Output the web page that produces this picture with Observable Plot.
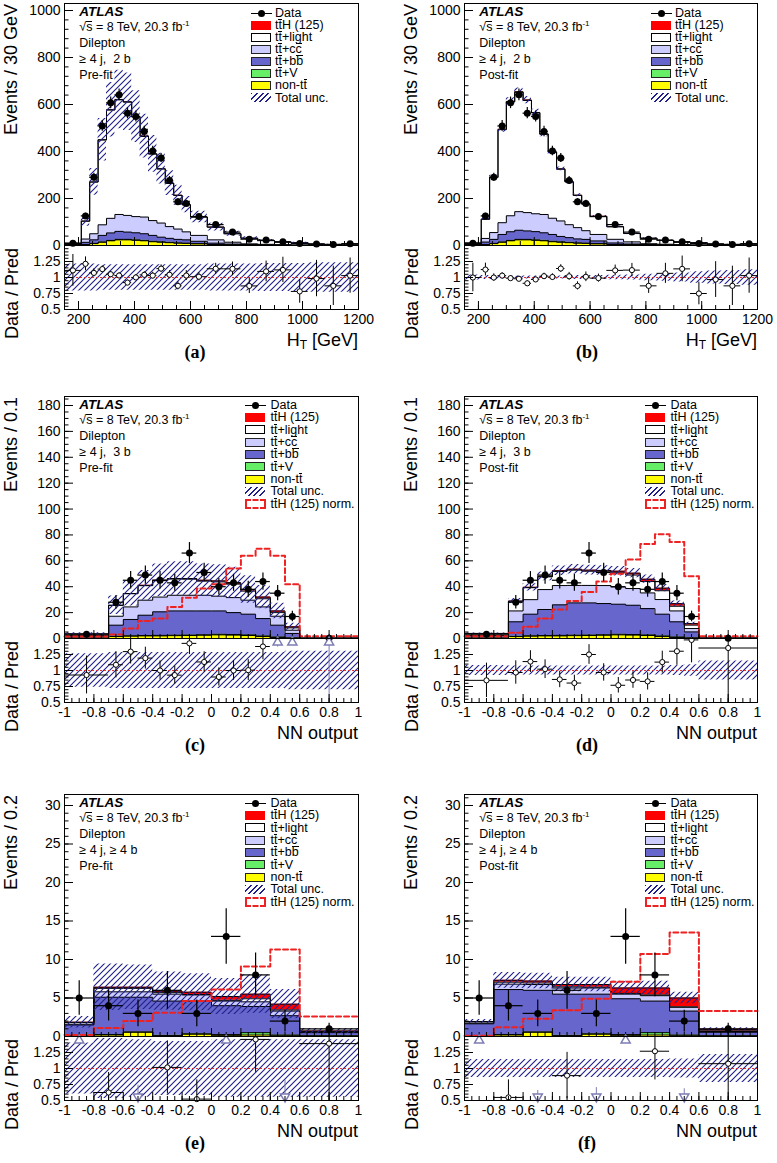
<!DOCTYPE html>
<html>
<head>
<meta charset="utf-8">
<script src="https://cdn.jsdelivr.net/npm/d3@7"></script>
<script src="https://cdn.jsdelivr.net/npm/@observablehq/plot@0.6"></script>
<style>
html,body{margin:0;padding:0;background:#fff;}
#root{position:relative;width:777px;height:1163px;overflow:hidden;background:#fff;font-family:"Liberation Sans",Arial,Helvetica,sans-serif;color:#000;}
.t{position:absolute;white-space:nowrap;line-height:1;}
.ol{display:inline-block;border-top:1px solid currentColor;line-height:0.8em;}
.ytitle{position:absolute;writing-mode:vertical-rl;transform:rotate(180deg);font-size:18px;line-height:18px;white-space:nowrap;}
sup{font-size:8px;vertical-align:5px;line-height:0;}
sub{font-size:12px;vertical-align:-3px;line-height:0;}
</style>
</head>
<body>
<svg width="0" height="0" style="position:absolute;left:0;top:0">
<defs>
<pattern id="hatch" patternUnits="userSpaceOnUse" width="6" height="6">
<path d="M-1,1 l2,-2 M0,6 l6,-6 M5,7 l2,-2" stroke="#20208c" stroke-width="1.15" fill="none"/>
</pattern>
</defs>
</svg>
<div id="root"></div>
<script>
// ================= DATA =================
// H_T binning (GeV), shown as Events / 30 GeV
const htEdges = [150,210,240,270,300,330,360,390,420,450,480,510,540,570,600,660,720,780,840,900,960,1020,1080,1140,1200];
const htData  = [10,126,290,509,607,641,563,549,485,402,372,277,186,179,123,89,57,27,23,16,9,6,4,7];

// (a) pre-fit, >=4j 2b
const aNonTT   = [1,4,8,14,20,24,24,22,20,16,14,12,10,9,7,4,3,2,1,1,0.5,0.5,0.3,0.3];
const aTTV     = [0,0.5,1,1,1.5,2,2,2,2,2,1.5,1.5,1,1,1,0.5,0.5,0.3,0.2,0.2,0.1,0.1,0.1,0.1];
const aTTbb    = [1,9,15,28,32,34,31,30,28,25,20,17,15,14,10,5.5,2.5,1.7,1.2,0.5,0.4,0.3,0.2,0.2];
const aTTcc    = [2,14,26,45,62,72,71,69,71,63,60,50,44,34,25,14,8,3,2.5,1.5,1,0.7,0.5,0.5];
const aTTlight = [5,76,220,361,461,488,482,424,343,283,230,184,143,115,78,54,36,24,16,11,9.5,4.5,3.5,5.7];
const aTTH     = [0,0.3,0.5,1,1.2,1.5,1.5,1.5,1.5,1.3,1.2,1,0.8,0.7,0.5,0.3,0.2,0.1,0.1,0.1,0,0,0,0];
const aUnc     = [0.21,0.21,0.21,0.2,0.2,0.2,0.2,0.2,0.2,0.2,0.2,0.2,0.2,0.2,0.2,0.21,0.21,0.21,0.22,0.22,0.22,0.23,0.23,0.23];

// (b) post-fit, >=4j 2b
const bNonTT   = [1,4,8,14,20,24,24,22,20,16,14,12,10,9,7,4,3,2,1,1,0.5,0.5,0.3,0.3];
const bTTV     = [0,0.5,1,1,1.5,2,2,2,2,2,1.5,1.5,1,1,1,0.5,0.5,0.3,0.2,0.2,0.1,0.1,0.1,0.1];
const bTTbb    = [1.2,10,17,32,37,39,36,35,32,29,23,20,17,16,11.5,6.3,2.9,2,1.4,0.6,0.5,0.35,0.25,0.25];
const bTTcc    = [2.2,15.5,29,50,68,79,78,76,78,69,66,55,48,37,27.5,15.5,9,3.3,2.8,1.7,1.1,0.8,0.55,0.55];
const bTTlight = [5.6,81.7,234.5,396,485,508,477,429,341,281,220,182,137,113,76.5,53.4,35.4,23.3,16.1,10.5,9.8,4.45,3.4,5.6];
const bTTH     = [0,0.4,0.7,1.4,1.7,2.1,2.1,2.1,2.1,1.8,1.7,1.4,1.1,1,0.7,0.4,0.3,0.15,0.1,0.1,0,0,0,0];
const bUnc     = [0.04,0.03,0.03,0.025,0.025,0.025,0.025,0.025,0.025,0.025,0.025,0.03,0.03,0.03,0.03,0.035,0.04,0.05,0.06,0.07,0.09,0.1,0.11,0.12];

// NN output, >=4j 3b, shown as Events / 0.1
const nn3Edges = [-1,-0.7,-0.6,-0.5,-0.4,-0.3,-0.2,-0.1,0,0.1,0.2,0.3,0.4,0.5,0.6,1];
const nn3Data  = [3.3,28,45,49,45,43,66,51,40,43,38,44,35,17,0.25];

// (c) pre-fit
const cNonTT   = [0.3,1.5,1.8,2,2,2.2,2.3,2.5,2.8,2.6,2.3,1.5,0.8,0.3,0.01];
const cTTV     = [0.05,0.2,0.3,0.3,0.4,0.4,0.4,0.4,0.5,0.5,0.5,0.5,0.4,0.2,0.01];
const cTTbb    = [1.55,8.6,12.6,15.7,18.2,18.7,18.6,18.4,18,16.9,16,13.4,9.1,3.4,0.05];
const cTTcc    = [0.3,6.9,9.7,11.6,11.4,12.1,12.1,12.1,11.4,11.6,10.8,9,6.9,2.5,0.03];
const cTTlight = [1.34,8.4,10.2,11.2,12.7,12.5,12.4,10.9,11,10.4,7,6.3,2.8,1.8,0.04];
const cTTH     = [0.01,0.1,0.15,0.25,0.3,0.45,0.55,0.7,0.8,1,1.2,1.3,1.3,0.8,0.01];
const cNorm    = [1.5,3,7.7,13.6,15.4,24.4,31.4,38.6,42,54,64,69.4,64,42,1.8];
const cUnc     = [0.26,0.28,0.28,0.28,0.28,0.28,0.28,0.28,0.28,0.28,0.28,0.28,0.28,0.3,0.3];

// (d) post-fit
const dNonTT   = [0.3,1.5,1.8,2,2,2.2,2.3,2.5,2.8,2.6,2.3,1.5,0.8,0.3,0.01];
const dTTV     = [0.05,0.2,0.3,0.3,0.4,0.4,0.4,0.4,0.5,0.5,0.5,0.5,0.4,0.2,0.01];
const dTTbb    = [1.85,11.2,16.7,20.1,23.6,24.9,24.8,24.1,23.2,22.6,20.3,16.8,11.7,4.6,0.06];
const dTTcc    = [0.4,8.4,11.2,15.4,14.9,13.5,13.5,13.9,13.4,12.9,12.1,11.3,8.4,2.6,0.04];
const dTTlight = [1.28,7.45,9.25,9.8,10.9,11.8,10.95,10.65,10.9,10.4,8.8,6.8,3.6,2.6,0.045];
const dTTH     = [0.02,0.15,0.25,0.4,0.5,0.7,0.85,1.05,1.2,1.5,1.8,2,2,1.2,0.02];
const dNorm    = [1.8,4.4,9,15.4,22.4,29,36,44,50,61,73,80.5,74.6,48,1.8];
const dUnc     = [0.08,0.07,0.07,0.07,0.07,0.07,0.07,0.07,0.07,0.07,0.07,0.07,0.08,0.09,0.15];

// NN output, >=4j >=4b, shown as Events / 0.2
const nn4Edges = [-1,-0.8,-0.6,-0.4,-0.2,0,0.2,0.4,0.6,1];
const nn4Data  = [5,4,3,6,3,13,8,2,1];

// (e) pre-fit
const eNonTT   = [0.05,0.2,0.55,0.1,0.3,0.15,0.2,0.1,0.05];
const eTTV     = [0.02,0.05,0.05,0.05,0.05,0.1,0.3,0.1,0.05];
const eTTbb    = [1.43,4.85,4.5,4.45,4.25,3.75,3.4,2.5,0.4];
const eTTcc    = [0.1,0.7,0.7,0.9,0.8,0.6,0.6,0.6,0.1];
const eTTlight = [0.23,0.45,0.45,0.2,0.05,0.1,0.4,0.15,0.02];
const eTTH     = [0.02,0.15,0.15,0.2,0.3,0.5,0.6,0.75,0.1];
const eNorm    = [0.2,1.1,2.0,3.1,4.6,6.1,9.1,11.3,2.6];
const eUnc     = [0.4,0.47,0.45,0.42,0.42,0.45,0.45,0.45,0.45];

// (f) post-fit
const fNonTT   = [0.05,0.2,0.55,0.1,0.3,0.15,0.2,0.1,0.05];
const fTTV     = [0.02,0.05,0.05,0.05,0.05,0.1,0.3,0.1,0.05];
const fTTbb    = [1.58,5.85,5.4,5.35,5.15,4.65,4.1,3.1,0.45];
const fTTcc    = [0.1,0.7,0.75,0.8,0.8,0.6,0.7,0.5,0.1];
const fTTlight = [0.17,0.25,0.2,0.15,0.1,0.1,0.1,0.05,0.08];
const fTTH     = [0.03,0.25,0.25,0.3,0.35,0.7,0.9,1.15,0.2];
const fNorm    = [0.1,1.2,2.3,3.4,4.9,7.1,10.7,13.5,3.3];
const fUnc     = [0.14,0.14,0.14,0.14,0.14,0.14,0.14,0.15,0.22];

// tick labels
const htTicks    = [200,400,600,800,1000,1200];
const nnTicks    = [-1,-0.8,-0.6,-0.4,-0.2,0,0.2,0.4,0.6,0.8,1];
const yTicksHT   = [0,200,400,600,800,1000];
const yTicks3b   = [0,20,40,60,80,100,120,140,160,180];
const yTicks4b   = [0,5,10,15,20,25,30];
const ratioTicks = [0.5,0.75,1,1.25];

// ================= STYLE / LAYOUT =================
const LAYER_COLORS = ["#ffff00","#66ee66","#6666cc","#ccccff","#ffffff","#ff0000"];
const ARROW_C = "#7c7cb4";
const COLS = [{L:64, W:294}, {L:464, W:293}];
const ROWS = [{T:3, H:242}, {T:396, H:242}, {T:794, H:242}];
const RH = 64;
const ML = 50, MR = 4, MT = 4, MB = 4, MR2 = 16, MB2 = 26;
const FONT = '"Liberation Sans", Arial, Helvetica, sans-serif';
const STYLE = {background:"transparent", overflow:"visible", fontFamily:FONT, fontSize:"14px", color:"black"};
const fmt = d => String(d);

const panels = [
  {lab:"(a)", col:0, row:0, edges:htEdges, unitW:30, data:htData,
   layers:[aNonTT,aTTV,aTTbb,aTTcc,aTTlight,aTTH], unc:aUnc, norm:null,
   yMax:1029.8, yTicks:yTicksHT, yMinor:40, xDomain:[150,1200], xTicks:htTicks, xMinor:50,
   ytitle:"Events / 30 GeV", xtitle:"H<sub>T</sub> [GeV]", jets:"&ge; 4 j,&nbsp; 2 b", fit:"Pre-fit"},
  {lab:"(b)", col:1, row:0, edges:htEdges, unitW:30, data:htData,
   layers:[bNonTT,bTTV,bTTbb,bTTcc,bTTlight,bTTH], unc:bUnc, norm:null,
   yMax:1029.8, yTicks:yTicksHT, yMinor:40, xDomain:[150,1200], xTicks:htTicks, xMinor:50,
   ytitle:"Events / 30 GeV", xtitle:"H<sub>T</sub> [GeV]", jets:"&ge; 4 j,&nbsp; 2 b", fit:"Post-fit"},
  {lab:"(c)", col:0, row:1, edges:nn3Edges, unitW:0.1, data:nn3Data,
   layers:[cNonTT,cTTV,cTTbb,cTTcc,cTTlight,cTTH], unc:cUnc, norm:cNorm,
   yMax:186.95, yTicks:yTicks3b, yMinor:5, xDomain:[-1,1], xTicks:nnTicks, xMinor:0.05,
   ytitle:"Events / 0.1", xtitle:"NN output", jets:"&ge; 4 j,&nbsp; 3 b", fit:"Pre-fit"},
  {lab:"(d)", col:1, row:1, edges:nn3Edges, unitW:0.1, data:nn3Data,
   layers:[dNonTT,dTTV,dTTbb,dTTcc,dTTlight,dTTH], unc:dUnc, norm:dNorm,
   yMax:186.95, yTicks:yTicks3b, yMinor:5, xDomain:[-1,1], xTicks:nnTicks, xMinor:0.05,
   ytitle:"Events / 0.1", xtitle:"NN output", jets:"&ge; 4 j,&nbsp; 3 b", fit:"Post-fit"},
  {lab:"(e)", col:0, row:2, edges:nn4Edges, unitW:0.2, data:nn4Data,
   layers:[eNonTT,eTTV,eTTbb,eTTcc,eTTlight,eTTH], unc:eUnc, norm:eNorm,
   yMax:31.43, yTicks:yTicks4b, yMinor:1, xDomain:[-1,1], xTicks:nnTicks, xMinor:0.05,
   ytitle:"Events / 0.2", xtitle:"NN output", jets:"&ge; 4 j, &ge; 4 b", fit:"Pre-fit"},
  {lab:"(f)", col:1, row:2, edges:nn4Edges, unitW:0.2, data:nn4Data,
   layers:[fNonTT,fTTV,fTTbb,fTTcc,fTTlight,fTTH], unc:fUnc, norm:fNorm,
   yMax:31.43, yTicks:yTicks4b, yMinor:1, xDomain:[-1,1], xTicks:nnTicks, xMinor:0.05,
   ytitle:"Events / 0.2", xtitle:"NN output", jets:"&ge; 4 j, &ge; 4 b", fit:"Post-fit"}
];

// ================= HELPERS =================
const root = document.getElementById("root");
function place(el, x, y) {
  el.style.position = "absolute"; el.style.left = x + "px"; el.style.top = y + "px";
  root.appendChild(el); return el;
}
function html(x, y, s, css, right) {
  const d = document.createElement("div");
  d.className = "t"; d.innerHTML = s;
  if (css) d.style.cssText += css;
  place(d, x, y);
  if (right) { d.style.left = "auto"; d.style.right = (777 - x) + "px"; }
  return d;
}
function box(x, y, w, h, css) {
  const d = document.createElement("div");
  d.style.cssText = `width:${w}px;height:${h}px;box-sizing:border-box;` + css;
  return place(d, x, y);
}
function stepRows(edges, lo, hi) {
  const n = lo.length;
  const rows = lo.map((v, i) => ({x: edges[i], y1: v, y2: hi[i]}));
  rows.push({x: edges[n], y1: lo[n - 1], y2: hi[n - 1]});
  return rows;
}
function range(a, b, s) { return d3.range(a, b + s * 1e-3, s); }
function tickMarks(W, H, xMajor, xMinor, yMajor, yMinor) {
  return [
    Plot.tickY(yMinor, {y: d => d, insetRight: W - 4.5, stroke: "black"}),
    Plot.tickY(yMajor, {y: d => d, insetRight: W - 9, stroke: "black"}),
    Plot.tickX(xMinor, {x: d => d, insetTop: H - 4, stroke: "black"}),
    Plot.tickX(xMajor, {x: d => d, insetTop: H - 8, stroke: "black"})
  ];
}

const TT = 't<span class="ol">t</span>';
const LEG = [
  {label:"Data", kind:"data"},
  {label:TT + 'H (125)', fill:"#ff0000", stroke:"#ff0000"},
  {label:TT + '+light', fill:"#ffffff", stroke:"#000"},
  {label:TT + '+c<span class="ol">c</span>', fill:"#ccccff", stroke:"#222"},
  {label:TT + '+b<span class="ol">b</span>', fill:"#6666cc", stroke:"#222"},
  {label:TT + '+V', fill:"#66ee66", stroke:"#222"},
  {label:'non-' + TT, fill:"#ffff00", stroke:"#222"},
  {label:'Total unc.', kind:"hatch"},
  {label:TT + 'H (125) norm.', kind:"norm"}
];

// ================= BUILD =================
panels.forEach(p => {
  const {L, W} = COLS[p.col];
  const {T, H} = ROWS[p.row];
  const RB = T + H + RH; // ratio bottom
  const n = p.data.length;

  // stacked layers
  let base = new Array(n).fill(0);
  const fills = [], outlines = [];
  p.layers.forEach((arr, j) => {
    const top = base.map((b, i) => b + arr[i]);
    const rows = stepRows(p.edges, base, top);
    fills.push(Plot.areaY(rows, {x: "x", y1: "y1", y2: "y2", curve: "step-after", fill: LAYER_COLORS[j]}));
    outlines.push(Plot.line(rows, {x: "x", y: "y2", curve: "step-after", stroke: "black", strokeWidth: 1}));
    base = top;
  });
  const total = base;
  const bandRows = stepRows(p.edges, total.map((t, i) => t * (1 - p.unc[i])), total.map((t, i) => t * (1 + p.unc[i])));
  const normMark = p.norm ? Plot.line(stepRows(p.edges, p.norm, p.norm),
      {x: "x", y: "y2", curve: "step-after", stroke: "#ee2222", strokeWidth: 2, strokeDasharray: "5,3"}) : null;

  const pts = p.data.map((v, i) => {
    const x1 = p.edges[i], x2 = p.edges[i + 1];
    const k = (x2 - x1) / p.unitW;
    const e = Math.sqrt(v * k) / k;
    const t = total[i];
    return {x1, x2, xc: (x1 + x2) / 2, v, lo: v - e, hi: v + e, r: v / t, rlo: (v - e) / t, rhi: (v + e) / t};
  });

  const yMinor = range(0, p.yMax, p.yMinor);
  const xMinor = range(p.xDomain[0], p.xDomain[1], p.xMinor);

  const main = Plot.plot({
    width: W + ML + MR, height: H + MT + MB,
    marginLeft: ML, marginRight: MR, marginTop: MT, marginBottom: MB,
    x: {domain: p.xDomain, axis: null},
    y: {domain: [0, p.yMax], clamp: true},
    style: STYLE,
    marks: [
      ...fills, ...outlines,
      Plot.areaY(bandRows, {x: "x", y1: "y1", y2: "y2", curve: "step-after", fill: "url(#hatch)"}),
      normMark,
      Plot.ruleX(pts, {x: "xc", y1: "lo", y2: "hi", stroke: "black", strokeWidth: 1.2}),
      Plot.ruleY(pts, {y: "v", x1: "x1", x2: "x2", stroke: "black", strokeWidth: 1.2}),
      Plot.dot(pts, {x: "xc", y: "v", r: 3.5, fill: "black"}),
      ...tickMarks(W, H, p.xTicks, xMinor, p.yTicks, yMinor),
      Plot.axisY(p.yTicks, {tickSize: 0, tickPadding: 4, tickFormat: fmt, label: null, fontSize: 14}),
      Plot.frame({stroke: "black"})
    ]
  });
  place(main, L - ML, T - MT);

  // ratio panel
  const inR = pts.filter(d => d.r >= 0.5 && d.r <= 1.5);
  const up = pts.filter(d => d.r > 1.5);
  const dn = pts.filter(d => d.r < 0.5);
  const ARR_HI = 1.44, ARR_LO = 0.56;
  const rBand = stepRows(p.edges, p.unc.map(u => 1 - u), p.unc.map(u => 1 + u));
  const ratio = Plot.plot({
    width: W + ML + MR2, height: RH + MT + MB2,
    marginLeft: ML, marginRight: MR2, marginTop: MT, marginBottom: MB2,
    x: {domain: p.xDomain},
    y: {domain: [0.5, 1.5], clamp: true},
    style: STYLE,
    marks: [
      Plot.areaY(rBand, {x: "x", y1: "y1", y2: "y2", curve: "step-after", fill: "url(#hatch)"}),
      Plot.ruleY([1], {stroke: "#e8302f", strokeWidth: 1, strokeDasharray: "2,2"}),
      Plot.ruleX(inR, {x: "xc", y1: "rlo", y2: "rhi", stroke: "black"}),
      Plot.ruleY(inR, {y: "r", x1: "x1", x2: "x2", stroke: "black"}),
      Plot.dot(inR, {x: "xc", y: "r", r: 2.6, fill: "white", stroke: "black", strokeWidth: 1}),
      Plot.ruleX(up, {x: "xc", y1: d => Math.max(d.rlo, 0.5), y2: () => ARR_HI, stroke: ARROW_C}),
      Plot.dot(up, {x: "xc", y: () => ARR_HI, symbol: "triangle", r: 3.4, fill: "white", stroke: ARROW_C}),
      Plot.ruleX(dn, {x: "xc", y1: d => Math.min(d.rhi, 1.5), y2: () => ARR_LO, stroke: ARROW_C}),
      Plot.dot(dn, {x: "xc", y: () => ARR_LO, symbol: "triangle", rotate: 180, r: 3.4, fill: "white", stroke: ARROW_C}),
      ...tickMarks(W, RH, p.xTicks, xMinor, ratioTicks, range(0.5, 1.5, 0.05)),
      Plot.axisY(ratioTicks, {tickSize: 0, tickPadding: 4, tickFormat: fmt, label: null, fontSize: 14}),
      Plot.axisX(p.xTicks, {tickSize: 0, tickPadding: 5, tickFormat: fmt, label: null, fontSize: 14}),
      Plot.frame({stroke: "black"})
    ]
  });
  place(ratio, L - ML, T + H - MT);

  // axis titles
  const yt = document.createElement("div");
  yt.className = "ytitle"; yt.textContent = p.ytitle;
  place(yt, L - 62, T + 1);
  const rt = document.createElement("div");
  rt.className = "ytitle"; rt.textContent = "Data / Pred";
  place(rt, L - 61, T + H + 3);
  html(L + W, RB + 22, p.xtitle, "font-size:18px;", true);
  html(p.col === 0 ? 195 : 587, RB + 34, p.lab, 'font-family:"Liberation Serif","Times New Roman",serif;font-weight:bold;font-size:18px;transform:translateX(-50%);');

  // top-left text block
  const tx = L + 15.3;
  html(tx, T + 1.8, "ATLAS", "font-weight:bold;font-style:italic;font-size:13.5px;");
  html(tx, T + 17.5, '&radic;<span class="ol">s</span> = 8 TeV, 20.3 fb<sup>-1</sup>', "font-size:12.5px;");
  html(tx, T + 33.5, "Dilepton", "font-size:12.5px;");
  html(tx, T + 49.5, p.jets, "font-size:12.5px;");
  html(tx, T + 65.5, p.fit, "font-size:12.5px;");

  // legend
  const hasNorm = !!p.norm;
  const entries = hasNorm ? LEG : LEG.slice(0, 8);
  const bx = L + (hasNorm ? 181 : 186.7);
  const txl = L + (hasNorm ? 206.5 : 211);
  const y0 = T + (hasNorm ? 9.2 : 10.3);
  const dy = hasNorm ? 12.35 : 12.06;
  entries.forEach((en, i) => {
    const yc = y0 + i * dy;
    if (en.kind === "data") {
      box(bx, yc - 0.5, 21, 1, "background:#000;");
      box(bx + 7, yc - 3.5, 7, 7, "background:#000;border-radius:50%;");
    } else if (en.kind === "hatch") {
      box(bx, yc - 4.5, 20, 9, "background:repeating-linear-gradient(135deg,#20208c 0 1.2px,transparent 1.2px 4px);");
    } else if (en.kind === "norm") {
      box(bx, yc - 5, 21, 10, "border:2px dashed #ee2222;background:#fff;");
    } else {
      box(bx, yc - 4.5, 20, 9, `background:${en.fill};border:1px solid ${en.stroke};`);
    }
    html(txl, yc - 6.2, en.label, "font-size:12.5px;");
  });
});
</script>
</body>
</html>
